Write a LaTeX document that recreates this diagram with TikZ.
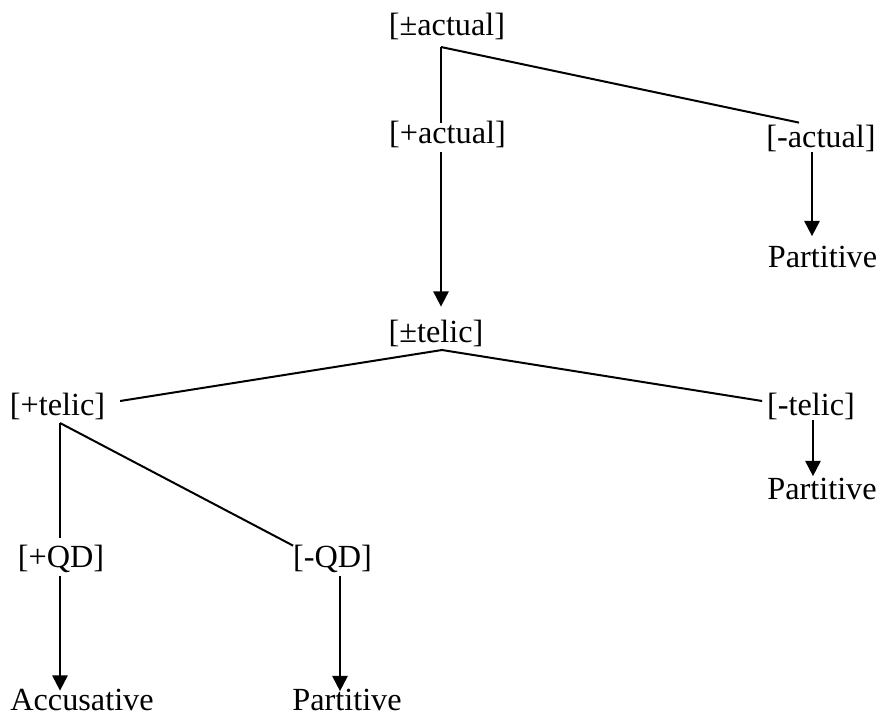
\documentclass[tikz,border=0pt]{standalone}
\usepackage{fontspec}
\setmainfont{Liberation Serif}
\usetikzlibrary{arrows.meta,calc}

\tikzset{
  lbl/.style={inner sep=0pt, outer sep=0pt, anchor=base, font=\fontsize{24.2}{28}\selectfont},
  ln/.style={line width=1.5pt, line cap=butt},
  arr/.style={ln, -{Triangle[length=11.5pt,width=11.5pt]}}
}

\begin{document}
\begin{tikzpicture}[x=0.75pt, y=-0.75pt]
  \useasboundingbox (0,0) rectangle (879,715);

  % feature nodes
  \node[lbl] (pmact) at (447,35)   {[±actual]};
  \node[lbl] (pact)  at (447.5,143) {[+actual]};
  \node[lbl] (mact)  at (821,147)  {[-actual]};
  \node[lbl] (part1) at (822.5,267) {Partitive};
  \node[lbl] (pmtel) at (436,342)  {[±telic]};
  \node[lbl] (ptel)  at (57.5,415) {[+telic]};
  \node[lbl] (mtel)  at (811,415)  {[-telic]};
  \node[lbl] (part2) at (822,499)  {Partitive};
  \node[lbl] (pqd)   at (61,567)   {[+QD]};
  \node[lbl] (mqd)   at (332.5,567) {[-QD]};
  \node[lbl] (acc)   at (82,710)   {Accusative};
  \node[lbl] (part3) at (347,710)  {Partitive};

  % branching points
  \coordinate (j1) at (441,47);
  \coordinate (j2) at (442,350);
  \coordinate (j3) at (60,423);

  % [±actual]
  \draw[ln] (j1) -- ($(j1 |- pact.north)+(0,2)$);
  \draw[ln] (j1) -- ($(mact.north)+(-22,-2)$);
  \draw[arr] ($(j1 |- pact.south)+(0,5)$) -- ($(j1 |- pmtel.north)+(0,-13)$);
  \draw[arr] ($(mact.south)+(-9,1)$) -- ($(part1.north)+(-10.5,-9.5)$);

  % [±telic]
  \draw[ln] ($(ptel.base east)+(15,-14)$) -- (j2) -- ($(mtel.base west)+(-5,-14)$);
  \draw[arr] ($(mtel.south)+(2,1)$) -- ($(part2.north)+(-9,-1.5)$);

  % [+telic]
  \draw[ln] (j3) -- ($(j3 |- pqd.north)+(0,-7)$);
  \draw[ln] (j3) -- ($(mqd.north west)+(0,1)$);
  \draw[arr] ($(j3 |- pqd.south)+(0,4)$) -- ($(j3 |- acc.north)+(0,2)$);
  \draw[arr] ($(mqd.south)+(7.5,4)$) -- ($(part3.north)+(-7,2.5)$);
\end{tikzpicture}
\end{document}
